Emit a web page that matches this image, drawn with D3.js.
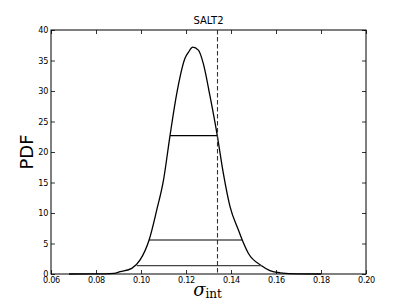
<!DOCTYPE html>
<html>
<head>
<meta charset="utf-8">
<script src="https://cdn.jsdelivr.net/npm/d3@7"></script>
<style>
  body { margin: 0; background: #fff; }
  .axis text { font-family: 'DejaVu Sans Condensed', 'DejaVu Sans', sans-serif; font-stretch: condensed; font-size: 9px; fill: #000; letter-spacing: -0.3px; }
</style>
</head>
<body>
<div class="vis"></div>
<script>
// posterior of sigma_int
const sigmaValues = [0.068, 0.080, 0.088, 0.0907, 0.0959, 0.0996, 0.1036, 0.107, 0.110, 0.1129, 0.1159, 0.1196, 0.121, 0.123, 0.1255, 0.1277, 0.1307, 0.1339, 0.1366, 0.1396, 0.1433, 0.145, 0.1477, 0.1536, 0.1573, 0.1618, 0.170, 0.180]
const pdfValues = [0, 0.01, 0.1, 0.38, 0.93, 2.3, 5.57, 10.5, 15.4, 22.7, 29.6, 35.4, 36.3, 37.2, 36.7, 34.5, 29.1, 22.7, 16.5, 11.0, 7.2, 5.57, 3.4, 1.36, 0.55, 0.2, 0.03, 0]

// credible interval levels: [pdf level, lo, hi]
const levels = [22.7, 5.57, 1.36]
const levelLo = [0.1129, 0.1036, 0.0981]
const levelHi = [0.1339, 0.145, 0.1536]

const refValue = 0.134
const titleText = 'SALT2'

const xTicks = [0.06, 0.08, 0.10, 0.12, 0.14, 0.16, 0.18, 0.20]
const yTicks = [0, 5, 10, 15, 20, 25, 30, 35, 40]

const margin = { top: 30, right: 41, bottom: 31, left: 51 }
const W = 407
const H = 305
const width = W - margin.left - margin.right
const height = H - margin.top - margin.bottom

const svg = d3.select('.vis').append('svg')
  .attr('width', W)
  .attr('height', H)
  .append('g')
  .attr('transform', `translate(${margin.left},${margin.top})`)

const x = d3.scaleLinear().domain([0.06, 0.20]).range([0, width])
const y = d3.scaleLinear().domain([0, 40]).range([height, 0])

// axes, matplotlib style inward ticks on all four sides
const xAxis = d3.axisBottom(x).tickValues(xTicks).tickFormat(d3.format('.2f')).tickSizeInner(-4).tickSizeOuter(0).tickPadding(3)
const yAxis = d3.axisLeft(y).tickValues(yTicks).tickFormat(d3.format('d')).tickSizeInner(-4).tickSizeOuter(0).tickPadding(3)
const xTop = d3.axisTop(x).tickValues(xTicks).tickFormat('').tickSizeInner(-4).tickSizeOuter(0)
const yRight = d3.axisRight(y).tickValues(yTicks).tickFormat('').tickSizeInner(-4).tickSizeOuter(0)

svg.append('g').attr('class', 'x axis').attr('transform', `translate(0,${height})`).call(xAxis)
svg.append('g').attr('class', 'y axis').call(yAxis)
svg.append('g').attr('class', 'axis').call(xTop)
svg.append('g').attr('class', 'axis').attr('transform', `translate(${width},0)`).call(yRight)
svg.selectAll('.axis .domain').remove()
svg.selectAll('.axis .tick line').attr('stroke', '#000').attr('stroke-width', 0.8)

svg.append('rect')
  .attr('width', width)
  .attr('height', height)
  .attr('fill', 'none')
  .attr('stroke', '#000')
  .attr('stroke-width', 1)

// curve
const pts = sigmaValues.map((s, i) => [s, pdfValues[i]])
const line = d3.line().x(d => x(d[0])).y(d => y(d[1])).curve(d3.curveMonotoneX)
svg.append('path')
  .datum(pts)
  .attr('d', line)
  .attr('fill', 'none')
  .attr('stroke', '#000')
  .attr('stroke-width', 1.3)

// horizontal interval lines
svg.selectAll('.level')
  .data(levels)
  .enter()
  .append('line')
  .attr('class', 'level')
  .attr('x1', (d, i) => x(levelLo[i]))
  .attr('x2', (d, i) => x(levelHi[i]))
  .attr('y1', d => y(d))
  .attr('y2', d => y(d))
  .attr('stroke', (d, i) => i == 2 ? '#444' : '#000')
  .attr('stroke-width', 1.2)

// reference dashed line
svg.append('line')
  .attr('x1', x(refValue))
  .attr('x2', x(refValue))
  .attr('y1', 0)
  .attr('y2', height)
  .attr('stroke', '#333')
  .attr('stroke-width', 1.1)
  .attr('stroke-dasharray', '4.5,2.5')

// title
svg.append('text')
  .attr('x', width / 2)
  .attr('y', -6)
  .attr('text-anchor', 'middle')
  .style('font-family', "'DejaVu Sans', sans-serif")
  .style('font-size', '10px')
  .text(titleText)

// y label
svg.append('text')
  .attr('transform', `translate(-18,${height / 2}) rotate(-90)`)
  .attr('text-anchor', 'middle')
  .style('font-family', "'DejaVu Sans', sans-serif")
  .style('font-size', '18px')
  .text('PDF')

// x label: sigma_int
const xl = svg.append('text')
  .attr('x', width / 2 - 1)
  .attr('y', height + 22)
  .attr('text-anchor', 'middle')
  .style('font-family', "'DejaVu Serif', serif")
xl.append('tspan').style('font-size', '18px').style('font-style', 'italic').text('σ')
xl.append('tspan').style('font-size', '12px').attr('dy', 2).text('int')
</script>
</body>
</html>
